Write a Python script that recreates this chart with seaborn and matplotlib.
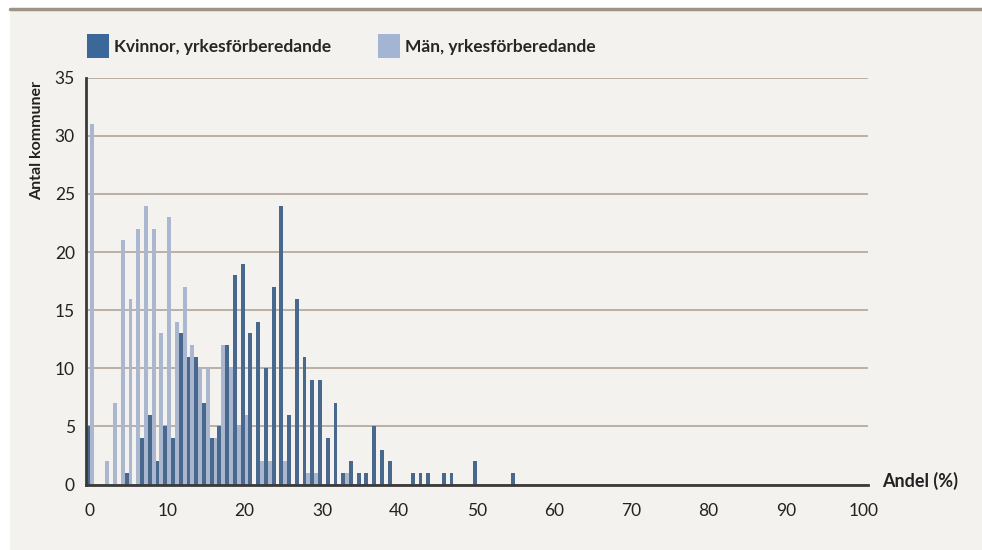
import numpy as np
import pandas as pd
import matplotlib
matplotlib.use("Agg")
import matplotlib.pyplot as plt
from matplotlib.patches import Patch, Rectangle
from matplotlib.lines import Line2D
import seaborn as sns

# Data: antal kommuner per andel (%) 0..100
andel = list(range(0, 101))

kvinnor = [
    5, 0, 0, 0, 0, 1, 0, 4, 6, 2,          # 0-9
    5, 4, 13, 11, 11, 7, 4, 5, 12, 18,     # 10-19
    19, 13, 14, 10, 17, 24, 6, 16, 11, 9,  # 20-29
    9, 4, 7, 1, 2, 1, 1, 5, 3, 2,          # 30-39
    0, 0, 1, 1, 1, 0, 1, 1, 0, 0,          # 40-49
    2, 0, 0, 0, 0, 1, 0, 0, 0, 0,          # 50-59
    0, 0, 0, 0, 0, 0, 0, 0, 0, 0,          # 60-69
    0, 0, 0, 0, 0, 0, 0, 0, 0, 0,          # 70-79
    0, 0, 0, 0, 0, 0, 0, 0, 0, 0,          # 80-89
    0, 0, 0, 0, 0, 0, 0, 0, 0, 0,          # 90-99
    0,                                     # 100
]

man = [
    31, 0, 2, 7, 21, 16, 22, 24, 22, 13,   # 0-9
    23, 14, 17, 12, 10, 10, 4, 12, 10, 5,  # 10-19
    6, 0, 2, 2, 0, 2, 0, 0, 1, 1,          # 20-29
    0, 0, 0, 1, 0, 0, 0, 0, 0, 0,          # 30-39
    0, 0, 0, 0, 0, 0, 0, 0, 0, 0,          # 40-49
    0, 0, 0, 0, 0, 0, 0, 0, 0, 0,          # 50-59
    0, 0, 0, 0, 0, 0, 0, 0, 0, 0,          # 60-69
    0, 0, 0, 0, 0, 0, 0, 0, 0, 0,          # 70-79
    0, 0, 0, 0, 0, 0, 0, 0, 0, 0,          # 80-89
    0, 0, 0, 0, 0, 0, 0, 0, 0, 0,          # 90-99
    0,                                     # 100
]

serie_namn = ["Kvinnor, yrkesförberedande", "Män, yrkesförberedande"]
x_ticks = [0, 10, 20, 30, 40, 50, 60, 70, 80, 90, 100]
y_ticks = [0, 5, 10, 15, 20, 25, 30, 35]

df = pd.DataFrame({
    "Andel": andel + andel,
    "Antal": kvinnor + man,
    "Grupp": [serie_namn[0]] * len(andel) + [serie_namn[1]] * len(andel),
})

# Stil
mork = "#3c6899"
ljus = "#a4b5d4"
bakgrund = "#f3f2ee"
rutnat = "#b7ab9f"

sns.set_theme(style="white")
plt.rcParams["font.family"] = ["Lato", "DejaVu Sans"]

fig = plt.figure(figsize=(9.82, 5.5), dpi=100)
fig.patch.set_facecolor("white")
# beige panel + linje överst
fig.patches.append(Rectangle((10 / 982, 0), 1, 1 - 10 / 550, transform=fig.transFigure,
                             facecolor=bakgrund, edgecolor="none", zorder=-10))
fig.lines.append(Line2D([10 / 982, 1], [1 - 9 / 550, 1 - 9 / 550], transform=fig.transFigure,
                        color="#9f9385", linewidth=2.5))

ax = fig.add_axes([86 / 982, 1 - 484.5 / 550, (868 - 86) / 982, (484.5 - 77.7) / 550])
ax.set_facecolor(bakgrund)

sns.barplot(data=df, x="Andel", y="Antal", hue="Grupp", hue_order=serie_namn,
            palette=[mork, ljus], width=1.0, linewidth=0, errorbar=None,
            legend=False, ax=ax)

ax.set_xlim(-0.5, 100.6)
ax.set_ylim(0, 35)
ax.set_xticks(x_ticks)
ax.set_xticklabels([str(v) for v in x_ticks])
ax.set_yticks(y_ticks)
ax.set_yticklabels([str(v) for v in y_ticks])
ax.tick_params(axis="both", length=0, labelsize=12.5, colors="#222222")
ax.tick_params(axis="x", pad=13)
ax.tick_params(axis="y", pad=8)
ax.set_xlabel("")
ax.set_ylabel("")

ax.set_axisbelow(True)
ax.yaxis.grid(True, color=rutnat, linewidth=1.3)
ax.xaxis.grid(False)
for s in ["top", "right"]:
    ax.spines[s].set_visible(False)
ax.spines["left"].set_color("#3a3a3a")
ax.spines["left"].set_linewidth(2)
ax.spines["bottom"].set_color("#3a3a3a")
ax.spines["bottom"].set_linewidth(2)

fig.text(37 / 982, 1 - 141 / 550, "Antal kommuner", rotation=90, ha="center", va="center",
         fontsize=11.5, fontweight="bold", color="#222222")
fig.text(882 / 982, 1 - 481 / 550, "Andel (%)", ha="left", va="center",
         fontsize=13, fontweight="bold", color="#222222")

handles = [Patch(facecolor=mork, edgecolor="none"), Patch(facecolor=ljus, edgecolor="none")]
fig.legend(handles, serie_namn, loc="center left", bbox_to_anchor=(87 / 982, 1 - 46 / 550),
           ncol=2, frameon=False, prop={"weight": "bold", "size": 12.5},
           borderpad=0, borderaxespad=0,
           handlelength=1.25, handleheight=1.7, handletextpad=0.3, columnspacing=2.7)

fig.savefig("out.png", dpi=100, facecolor=fig.get_facecolor())
